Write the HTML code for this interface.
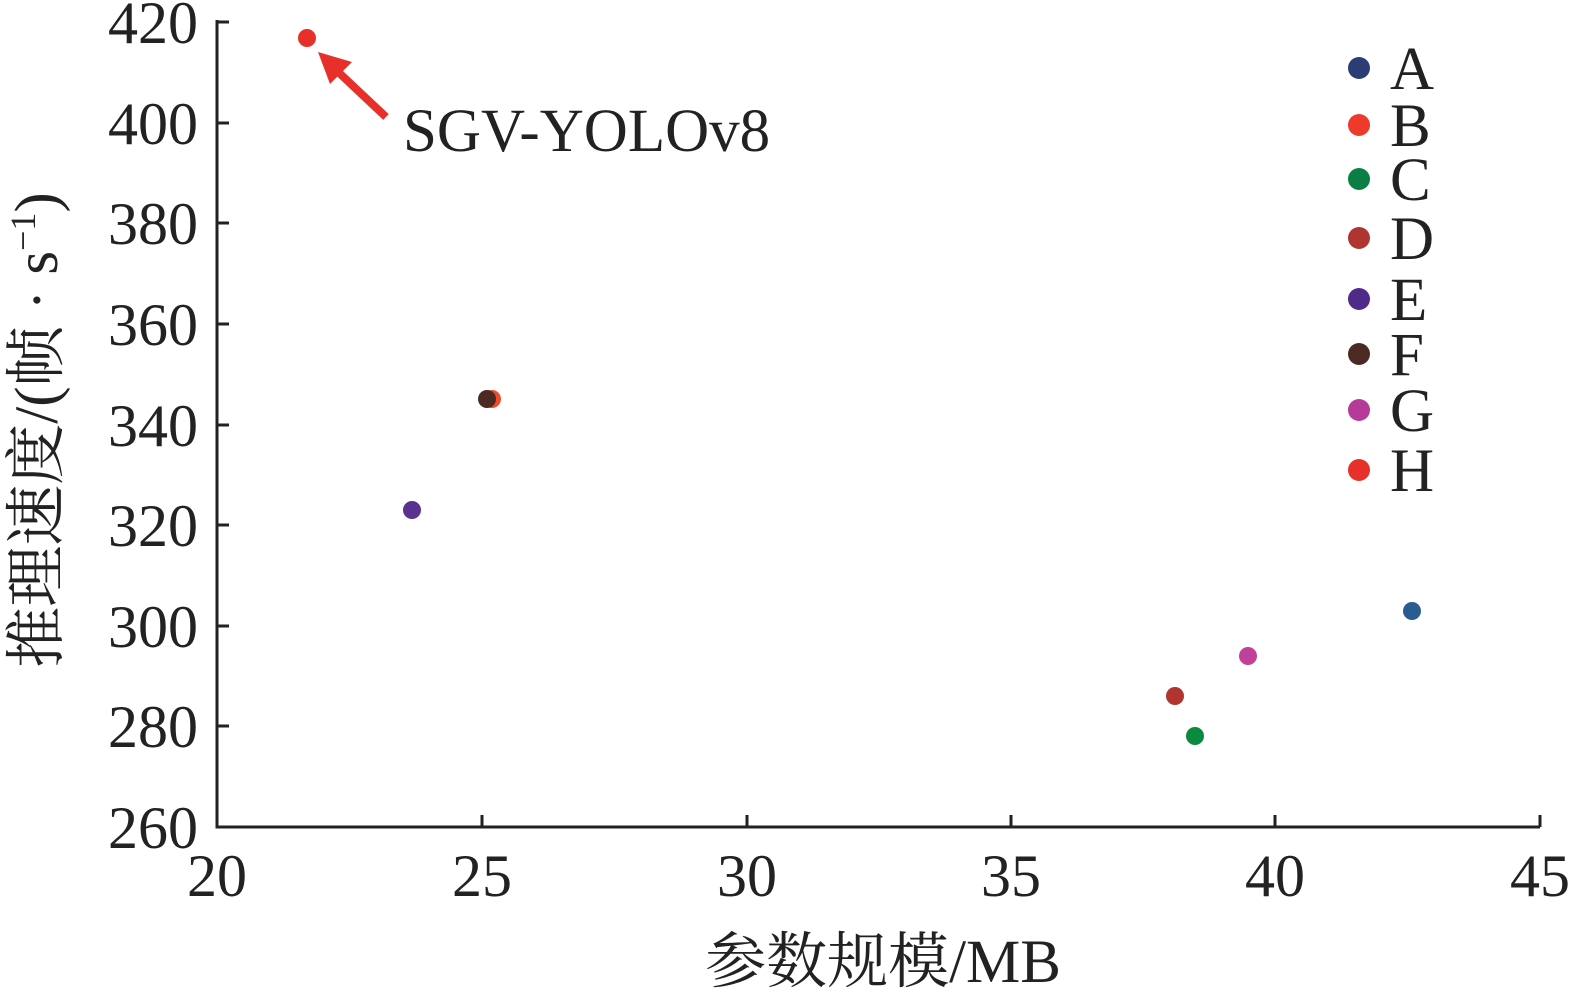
<!DOCTYPE html>
<html><head><meta charset="utf-8"><style>
html,body{margin:0;padding:0;background:#fff;}
svg{display:block;}
text{font-family:"Liberation Serif","Noto Serif CJK SC",serif;fill:#222;}
</style></head><body>
<svg width="1583" height="1000" viewBox="0 0 1583 1000" xmlns="http://www.w3.org/2000/svg">
<g stroke="#222" stroke-width="3" fill="none">
<path d="M217 20 V827 H1540"/>
<path d="M482 827 v-12 M747 827 v-12 M1011 827 v-12 M1275 827 v-12 M1540 827 v-12"/>
<path d="M217 22 h12 M217 123 h12 M217 223 h12 M217 324 h12 M217 425 h12 M217 525 h12 M217 626 h12 M217 726 h12"/>
</g>
<g font-size="60" text-anchor="end">
<text x="198" y="43">420</text><text x="198" y="144">400</text><text x="198" y="244">380</text>
<text x="198" y="345">360</text><text x="198" y="446">340</text><text x="198" y="546">320</text>
<text x="198" y="647">300</text><text x="198" y="747">280</text><text x="198" y="848">260</text>
</g>
<g font-size="60" text-anchor="middle">
<text x="217" y="896">20</text><text x="482" y="896">25</text><text x="747" y="896">30</text>
<text x="1011" y="896">35</text><text x="1275" y="896">40</text><text x="1540" y="896">45</text>
</g>
<text x="883" y="982" font-size="61" text-anchor="middle">参数规模/MB</text>
<text transform="translate(57 430) rotate(-90)" font-size="61" text-anchor="middle">推理速度/(帧 · s<tspan dy="-22" font-size="36">−1</tspan><tspan dy="22">)</tspan></text>
<circle cx="1412" cy="611" r="9" fill="#2a5d8f"/>
<circle cx="492" cy="399" r="9" fill="#f04a2a"/>
<circle cx="1195" cy="736" r="9" fill="#0a8a3e"/>
<circle cx="1175" cy="696" r="9" fill="#b03530"/>
<circle cx="412" cy="510" r="9" fill="#5a3090"/>
<circle cx="487" cy="399" r="9" fill="#4a2a22"/>
<circle cx="1248" cy="656" r="9" fill="#c0409a"/>
<circle cx="307" cy="38" r="9" fill="#e8302a"/>
<line x1="386" y1="117" x2="335" y2="69" stroke="#e8302a" stroke-width="8"/>
<polygon points="318,52 352,62 330,84" fill="#e8302a"/>
<text x="403" y="151" font-size="61">SGV-YOLOv8</text>
<g>
<circle cx="1359" cy="68" r="11" fill="#2b3d74"/>
<circle cx="1359" cy="125" r="11" fill="#ee3a2a"/>
<circle cx="1359" cy="179" r="11" fill="#0a7f45"/>
<circle cx="1359" cy="238" r="11" fill="#b03530"/>
<circle cx="1359" cy="299" r="11" fill="#4f2a88"/>
<circle cx="1359" cy="354" r="11" fill="#4a2a22"/>
<circle cx="1359" cy="410" r="11" fill="#b63a98"/>
<circle cx="1359" cy="470" r="11" fill="#e8302a"/>
</g>
<g font-size="61">
<text x="1390" y="89">A</text><text x="1390" y="146">B</text><text x="1390" y="200">C</text>
<text x="1390" y="259">D</text><text x="1390" y="320">E</text><text x="1390" y="375">F</text>
<text x="1390" y="431">G</text><text x="1390" y="491">H</text>
</g>
</svg>
</body></html>
